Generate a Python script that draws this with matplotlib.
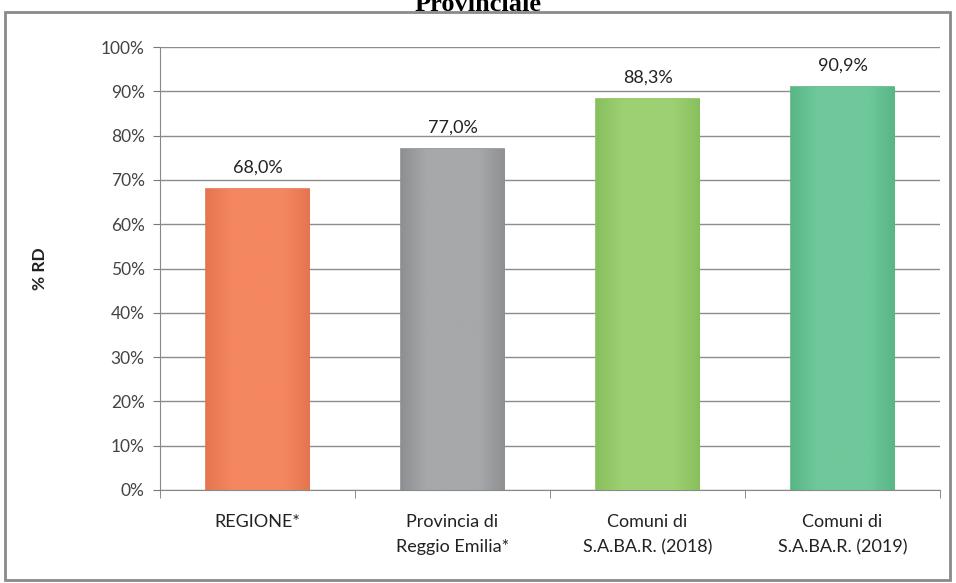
import matplotlib
matplotlib.use("Agg")
import matplotlib.pyplot as plt
from matplotlib.patches import Rectangle
from matplotlib.colors import LinearSegmentedColormap
import numpy as np

categories = ["REGIONE*", "Provincia di\nReggio Emilia*", "Comuni di\nS.A.BA.R. (2018)", "Comuni di\nS.A.BA.R. (2019)"]
values = [68.0, 77.0, 88.3, 90.9]
value_labels = ["68,0%", "77,0%", "88,3%", "90,9%"]
colors = ["#F4875F", "#A7A8AA", "#9DD072", "#6FC89B"]
edge_colors = ["#E47550", "#8E8F92", "#88BF5C", "#58B685"]
yticks = [0, 10, 20, 30, 40, 50, 60, 70, 80, 90, 100]
ytick_labels = ["0%", "10%", "20%", "30%", "40%", "50%", "60%", "70%", "80%", "90%", "100%"]

plt.rcParams['font.family'] = ['Lato', 'DejaVu Sans']

fig = plt.figure(figsize=(9.56, 5.83), dpi=100)
fig.patch.set_facecolor("white")

# outer chart frame
fig.patches.append(Rectangle((5/956, 3/583), 945/956, 568/583, transform=fig.transFigure,
                             fill=False, edgecolor="#8a8a8a", linewidth=2.0))

# clipped title (cut off at the top, as in the source)
fig.text(0.5, 0.992, "Provinciale", ha="center", va="center", fontsize=19,
         fontweight="bold", family="Liberation Serif")

ax = fig.add_axes([160/956, 1 - 490/583, 780/956, 443/583])
x = np.arange(len(categories))
bars = ax.bar(x, values, width=0.53, color=colors, edgecolor=edge_colors, linewidth=1.2, zorder=3)

# subtle horizontal shading inside each bar
for b, c, ec in zip(bars, colors, edge_colors):
    cmap = LinearSegmentedColormap.from_list("g", [ec, c, c, c, ec])
    grad = np.linspace(0, 1, 256).reshape(1, -1)
    im = ax.imshow(grad, cmap=cmap, aspect="auto", zorder=3.5,
                   extent=(b.get_x(), b.get_x() + b.get_width(), 0, b.get_height()))
    im.set_clip_path(b)

for xi, v, lab in zip(x, values, value_labels):
    ax.text(xi, v + 3.0, lab, ha="center", va="bottom", fontsize=13, color="#222222")

ax.set_xlim(-0.5, 3.5)
ax.set_ylim(0, 100)
ax.set_yticks(yticks)
ax.set_yticklabels(ytick_labels, fontsize=12.5, color="#444444")
ax.set_xticks(x)
ax.set_xticklabels(categories, fontsize=13, color="#222222", linespacing=1.75)
ax.set_xticks([-0.5, 0.5, 1.5, 2.5, 3.5], minor=True)
ax.tick_params(axis="x", which="major", length=0, pad=17)
ax.tick_params(axis="x", which="minor", length=6, color="#777777")
ax.tick_params(axis="y", length=5, color="#777777", pad=6)
ax.yaxis.grid(True, color="#8c8c8c", linewidth=1.0, zorder=0)
ax.set_axisbelow(True)
for s in ["top", "right"]:
    ax.spines[s].set_visible(False)
ax.spines["left"].set_color("#888888")
ax.spines["bottom"].set_color("#888888")
ax.set_ylabel("% RD", fontsize=12.5, fontweight="bold", labelpad=38, color="#222222")

fig.savefig("out.png", dpi=100, facecolor="white")
